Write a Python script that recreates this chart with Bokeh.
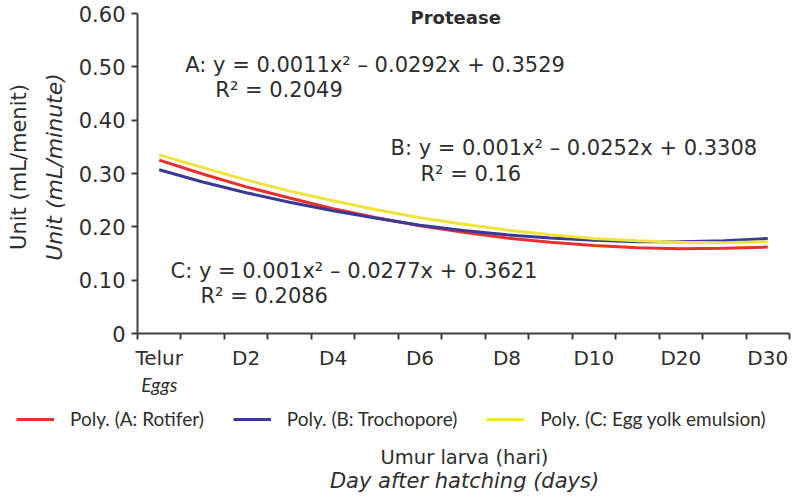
from bokeh.plotting import figure
from bokeh.layouts import column
from bokeh.models import (Range1d, LinearAxis, FixedTicker, NumeralTickFormatter, Label,
                          Title, Legend, LegendItem)
from bokeh.embed import file_html
from bokeh.resources import INLINE

# ---- data ----
categories = ["Telur", "D1", "D2", "D3", "D4", "D5", "D6", "D7", "D8", "D9", "D10",
              "D15", "D20", "D25", "D30"]
shown_labels = ["Telur", "D2", "D4", "D6", "D8", "D10", "D20", "D30"]
sub_label = {"Telur": "Eggs"}

rotifer    = [0.325, 0.299, 0.275, 0.254, 0.234, 0.217, 0.202, 0.190, 0.179, 0.171, 0.165, 0.161, 0.159, 0.160, 0.162]
trochopore = [0.307, 0.284, 0.264, 0.246, 0.230, 0.216, 0.203, 0.193, 0.185, 0.179, 0.175, 0.172, 0.172, 0.174, 0.178]
egg_yolk   = [0.335, 0.311, 0.288, 0.267, 0.249, 0.232, 0.217, 0.205, 0.194, 0.185, 0.178, 0.174, 0.171, 0.170, 0.172]

series_names = ["Poly. (A: Rotifer)", "Poly. (B: Trochopore)", "Poly. (C: Egg yolk emulsion)"]
series_colors = ["#e8302e", "#3a3a96", "#f0e43c"]

equations = ["A: y = 0.0011x\u00b2 \u2013 0.0292x + 0.3529", "R\u00b2 = 0.2049",
             "B: y = 0.001x\u00b2 \u2013 0.0252x + 0.3308", "R\u00b2 = 0.16",
             "C: y = 0.001x\u00b2 \u2013 0.0277x + 0.3621", "R\u00b2 = 0.2086"]

y_ticks = [0, 0.1, 0.2, 0.3, 0.4, 0.5, 0.6]
y_top = 0.6

TXT = "#2e2e2e"
AX = "#404040"
WIDE = "DejaVu Sans"
NARROW = "Lato"

n = len(categories)
xpos = list(range(1, n + 1))

# ---------------- main chart ----------------
p = figure(width=794, height=403, output_backend="svg", toolbar_location=None,
           x_range=Range1d(0.5, n + 0.5), y_range=Range1d(0, 0.6244),
           x_axis_location=None, y_axis_location=None,
           min_border_left=137, min_border_right=5, min_border_top=0, min_border_bottom=70)
p.frame_align = False
p.outline_line_color = None
p.grid.visible = False
p.background_fill_color = "white"
p.border_fill_color = "white"

# y axis (line stops at the top tick)
yaxis = LinearAxis(ticker=FixedTicker(ticks=y_ticks, minor_ticks=[]),
                   formatter=NumeralTickFormatter(format="0.00"),
                   major_label_overrides={0: "0"}, bounds=(0, y_top))
yaxis.axis_line_color = AX
yaxis.axis_line_width = 2
yaxis.major_tick_line_color = AX
yaxis.major_tick_line_width = 2
yaxis.major_tick_in = 0
yaxis.major_tick_out = 6
yaxis.minor_tick_line_color = None
yaxis.major_label_text_font = WIDE
yaxis.major_label_text_font_size = "21px"
yaxis.major_label_text_color = TXT
yaxis.major_label_standoff = 6
p.add_layout(yaxis, "left")

p.add_layout(Title(text="Unit (mL/minute)", align="center", text_font=WIDE, text_font_size="22px",
                   text_font_style="italic", text_color=TXT, standoff=18), "left")
p.add_layout(Title(text="Unit (mL/menit)", align="center", text_font=WIDE, text_font_size="21px",
                   text_font_style="normal", text_color=TXT, standoff=0), "left")

# x axis: ticks at category boundaries, labels at category centres
label_pos = [xpos[categories.index(c)] for c in shown_labels]
bounds = [v - 0.5 for v in xpos] + [xpos[-1] + 0.5]
xaxis = LinearAxis(ticker=FixedTicker(ticks=label_pos, minor_ticks=bounds),
                   major_label_overrides={xpos[categories.index(c)]: c for c in shown_labels})
xaxis.axis_line_color = AX
xaxis.axis_line_width = 2
xaxis.major_tick_line_color = None
xaxis.minor_tick_line_color = AX
xaxis.minor_tick_line_width = 2
xaxis.minor_tick_in = 0
xaxis.minor_tick_out = 6
xaxis.major_label_text_font = WIDE
xaxis.major_label_text_font_size = "20px"
xaxis.major_label_text_color = TXT
xaxis.major_label_standoff = 6
p.add_layout(xaxis, "below")

sub_pos = [xpos[categories.index(c)] for c in sub_label]
xaxis2 = LinearAxis(ticker=FixedTicker(ticks=sub_pos, minor_ticks=[]),
                    major_label_overrides={xpos[categories.index(c)]: t for c, t in sub_label.items()})
xaxis2.axis_line_color = None
xaxis2.major_tick_line_color = None
xaxis2.minor_tick_line_color = None
xaxis2.major_label_text_font = NARROW
xaxis2.major_label_text_font_size = "19px"
xaxis2.major_label_text_font_style = "italic"
xaxis2.major_label_text_color = TXT
xaxis2.major_label_standoff = -6
p.add_layout(xaxis2, "below")

# trend lines
renderers = []
for vals, col in zip([rotifer, trochopore, egg_yolk], series_colors):
    r = p.line(xpos, vals, line_color=col, line_width=3)
    renderers.append(r)

# chart title inside the plot area
p.add_layout(Label(x=7.82, y=y_top, y_offset=-4, text="Protease", text_align="center",
                   text_baseline="middle", text_font=WIDE, text_font_size="18px",
                   text_font_style="bold", text_color=TXT))

# equation annotations
eq_pos = [(1.60, 0.503), (2.29, 0.456), (6.32, 0.348), (7.01, 0.300), (1.26, 0.117), (1.95, 0.071)]
for txt, (ex, ey) in zip(equations, eq_pos):
    p.add_layout(Label(x=ex, y=ey, text=txt, text_align="left", text_baseline="middle",
                       text_font=WIDE, text_font_size="21px", text_color=TXT))

# ---------------- legend + x-axis title strip ----------------
p2 = figure(width=794, height=94, output_backend="svg", toolbar_location=None,
            x_range=Range1d(0, 794), y_range=Range1d(0, 94),
            x_axis_location=None, y_axis_location=None, min_border=0)
p2.frame_align = False
p2.outline_line_color = None
p2.grid.visible = False
p2.background_fill_color = "white"
p2.border_fill_color = "white"

nan = float("nan")
proxies = [p2.line(x=[nan], y=[nan], line_color=col, line_width=3) for col in series_colors]
legend = Legend(items=[LegendItem(label=nm, renderers=[r]) for nm, r in zip(series_names, proxies)],
                orientation="horizontal", location=(16, 67))
legend.label_text_font = NARROW
legend.label_text_font_size = "19px"
legend.label_text_color = TXT
legend.glyph_width = 38
legend.label_standoff = 16
legend.spacing = 29
legend.border_line_color = None
legend.background_fill_alpha = 0
legend.padding = 4
legend.margin = 0
p2.add_layout(legend, "center")

p2.add_layout(Label(x=464, y=40, text="Umur larva (hari)", text_align="center", text_baseline="middle",
                    text_font=WIDE, text_font_size="19.5px", text_color=TXT))
p2.add_layout(Label(x=464, y=17, text="Day after hatching (days)", text_align="center",
                    text_baseline="middle", text_font=WIDE, text_font_size="21px",
                    text_font_style="italic", text_color=TXT))

layout = column(p, p2, spacing=0)
open("out.html", "w").write(file_html(layout, INLINE))
